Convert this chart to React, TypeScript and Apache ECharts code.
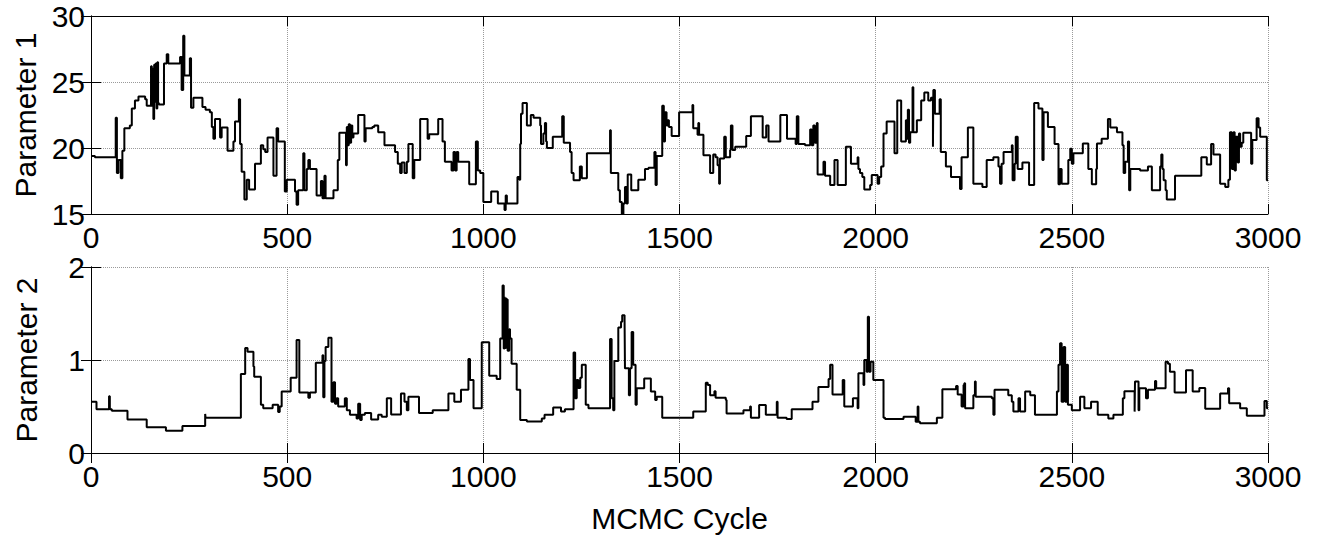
import React, { useEffect, useRef } from "react";
import * as echarts from "echarts";

const xTicks = [0, 500, 1000, 1500, 2000, 2500, 3000];

const param1Cycles = [
  0, 10, 63, 66, 70, 76, 80, 85, 99, 104, 112, 121, 138, 142, 153, 155, 157, 159, 161, 163, 165, 167, 169, 171, 173,
  186, 193, 197, 227, 231, 235, 238, 252, 255, 261, 284, 292, 303, 308, 312, 316, 329, 333, 348, 363, 367, 377, 380,
  384, 391, 397, 403, 418, 433, 439, 444, 450, 465, 473, 477, 494, 499, 520, 524, 528, 541, 544, 550, 554, 558, 575,
  586, 590, 595, 598, 618, 629, 633, 650, 652, 655, 657, 660, 663, 666, 669, 681, 697, 700, 717, 722, 732, 748, 775,
  782, 788, 792, 799, 805, 809, 820, 824, 839, 858, 862, 885, 896, 902, 919, 924, 928, 932, 936, 964, 981, 986, 992,
  1000, 1020, 1037, 1054, 1057, 1060, 1087, 1092, 1094, 1096, 1100, 1111, 1121, 1128, 1145, 1147, 1153, 1157, 1160,
  1162, 1177, 1201, 1205, 1221, 1225, 1230, 1246, 1251, 1264, 1323, 1325, 1344, 1348, 1353, 1357, 1361, 1365, 1368,
  1377, 1395, 1412, 1421, 1436, 1439, 1442, 1456, 1460, 1463, 1467, 1470, 1473, 1480, 1499, 1533, 1535, 1546, 1548,
  1550, 1561, 1578, 1586, 1592, 1597, 1601, 1603, 1614, 1618, 1629, 1631, 1635, 1642, 1670, 1682, 1712, 1721, 1727,
  1757, 1774, 1796, 1799, 1803, 1820, 1833, 1837, 1841, 1845, 1850, 1852, 1867, 1871, 1884, 1895, 1903, 1924, 1937,
  1954, 1956, 1960, 1966, 1971, 1986, 1990, 2005, 2009, 2014, 2020, 2028, 2048, 2055, 2065, 2077, 2079, 2082, 2085,
  2088, 2094, 2096, 2105, 2116, 2124, 2134, 2141, 2146, 2147, 2151, 2163, 2166, 2179, 2192, 2215, 2219, 2235, 2249,
  2272, 2283, 2300, 2313, 2317, 2321, 2326, 2347, 2349, 2354, 2357, 2362, 2374, 2391, 2404, 2415, 2425, 2428, 2439,
  2456, 2466, 2470, 2474, 2491, 2496, 2500, 2504, 2528, 2542, 2551, 2562, 2564, 2576, 2592, 2598, 2615, 2629, 2632,
  2636, 2643, 2646, 2649, 2674, 2694, 2704, 2725, 2728, 2731, 2734, 2739, 2742, 2763, 2830, 2844, 2855, 2861, 2878,
  2891, 2899, 2903, 2908, 2912, 2915, 2918, 2923, 2926, 2929, 2933, 2937, 2957, 2960, 2971, 2976, 2980, 2997, 3000,
];
const param1Values = [
  19.4, 19.3, 22.3, 18.1, 19.1, 17.7, 19.8, 21.5, 21.7, 23.0, 23.6, 23.9, 23.7, 23.2, 26.2, 23.2, 26.0, 22.2, 26.3,
  23.5, 26.4, 23.0, 26.5, 23.4, 23.3, 26.4, 27.1, 26.4, 26.9, 24.4, 28.5, 25.5, 26.8, 23.05, 23.8, 23.1, 22.9, 22.7,
  21.6, 20.7, 22.2, 20.8, 21.55, 19.8, 20.5, 22.0, 23.7, 20.3, 18.2, 16.1, 17.6, 16.85, 18.8, 20.2, 19.9, 19.7, 20.8,
  17.9, 21.5, 20.5, 16.7, 17.6, 16.7, 15.7, 16.8, 19.6, 16.8, 18.4, 19.1, 18.4, 16.4, 17.5, 16.2, 17.9, 16.2, 16.8,
  19.1, 21.15, 18.7, 21.6, 20.2, 21.8, 20.4, 21.7, 20.8, 21.1, 22.5, 20.5, 21.5, 21.6, 21.7, 21.2, 20.2, 19.7, 18.8,
  18.1, 18.9, 18.1, 18.95, 20.3, 17.7, 19.1, 22.2, 20.7, 21.05, 22.2, 20.5, 18.95, 18.3, 19.7, 18.3, 19.7, 18.95,
  17.25, 20.5, 18.3, 18.1, 15.9, 16.7, 15.8, 15.3, 16.4, 15.8, 17.8, 17.6, 20.3, 22.6, 23.4, 21.7, 22.5, 22.3, 21.7,
  20.3, 21.1, 21.9, 20.5, 20.0, 20.85, 22.4, 20.4, 19.7, 18.1, 17.55, 18.6, 17.7, 19.6, 21.35, 18.1, 16.8, 15.9, 15.0,
  15.8, 17.05, 15.8, 18.0, 16.8, 17.6, 18.4, 18.5, 19.7, 17.2, 19.4, 23.2, 20.5, 22.7, 21.7, 22.1, 21.6, 20.9, 22.7,
  23.25, 21.5, 21.0, 21.9, 21.0, 19.45, 18.1, 19.5, 19.3, 18.7, 17.3, 19.2, 20.85, 19.3, 19.85, 21.7, 19.85, 20.1,
  20.9, 22.4, 20.8, 21.7, 20.5, 22.5, 20.7, 20.3, 22.4, 20.3, 20.2, 21.4, 20.2, 21.7, 20.4, 21.9, 18.0, 18.95, 17.9,
  17.2, 19.1, 17.2, 20.1, 18.8, 19.3, 18.4, 18.1, 17.8, 16.85, 17.2, 17.95, 17.3, 17.8, 18.6, 21.1, 22.0, 19.6, 23.6,
  20.5, 22.1, 20.7, 22.9, 20.4, 21.2, 24.6, 21.2, 22.1, 23.6, 24.2, 23.6, 23.8, 20.1, 24.4, 22.6, 23.7, 19.7, 18.6,
  17.8, 16.9, 19.3, 21.55, 17.3, 17.05, 19.1, 19.3, 18.6, 17.3, 18.8, 19.7, 20.2, 17.55, 18.8, 20.85, 18.4, 18.9,
  17.2, 23.4, 23.0, 19.1, 22.7, 21.6, 20.3, 17.25, 18.4, 17.3, 19.1, 19.95, 18.8, 19.6, 20.35, 18.4, 17.25, 18.4,
  20.35, 20.7, 22.2, 21.55, 21.2, 20.2, 18.1, 18.95, 20.5, 16.8, 18.4, 18.3, 18.6, 16.8, 18.6, 19.5, 18.4, 17.55,
  16.8, 16.1, 17.9, 19.3, 18.75, 20.3, 19.5, 17.3, 17.05, 17.6, 21.2, 18.4, 21.2, 18.3, 20.85, 18.9, 21.1, 20.1,
  20.4, 21.15, 18.8, 20.6, 22.25, 21.55, 20.85, 17.55, 17.55,
];

const param2Cycles = [
  0, 14, 46, 48, 53, 93, 142, 191, 233, 291, 292, 382, 393, 399, 414, 416, 433, 439, 463, 477, 481, 486, 509, 524,
  531, 554, 558, 573, 590, 592, 595, 598, 605, 613, 618, 622, 626, 630, 647, 652, 660, 677, 681, 686, 690, 698, 714,
  732, 741, 754, 765, 790, 799, 805, 809, 836, 871, 911, 926, 943, 962, 966, 975, 996, 1015, 1034, 1043, 1049, 1052,
  1054, 1055, 1057, 1059, 1060, 1062, 1066, 1068, 1072, 1085, 1094, 1111, 1149, 1156, 1178, 1198, 1208, 1230, 1234,
  1238, 1242, 1247, 1251, 1261, 1268, 1323, 1327, 1331, 1334, 1344, 1351, 1354, 1360, 1361, 1371, 1374, 1378, 1382,
  1388, 1391, 1410, 1427, 1438, 1442, 1456, 1535, 1567, 1572, 1578, 1589, 1592, 1618, 1620, 1663, 1680, 1682, 1703,
  1720, 1748, 1750, 1773, 1786, 1839, 1854, 1880, 1884, 1890, 1916, 1920, 1942, 1954, 1956, 1969, 1971, 1977, 1980,
  1983, 1987, 1994, 2020, 2024, 2071, 2102, 2107, 2109, 2113, 2156, 2170, 2205, 2209, 2219, 2224, 2226, 2228, 2249,
  2253, 2255, 2296, 2300, 2303, 2338, 2347, 2351, 2364, 2368, 2381, 2394, 2406, 2462, 2466, 2470, 2474, 2479, 2483,
  2487, 2490, 2500, 2521, 2532, 2549, 2566, 2593, 2606, 2630, 2634, 2660, 2661, 2670, 2672, 2689, 2694, 2712, 2715,
  2739, 2745, 2750, 2762, 2791, 2808, 2825, 2840, 2878, 2898, 2901, 2929, 2946, 2991, 2997, 3000,
];
const param2Values = [
  0.55, 0.47, 0.61, 0.47, 0.455, 0.36, 0.276, 0.24, 0.29, 0.42, 0.38, 0.85, 1.13, 1.09, 0.93, 0.82, 0.52, 0.48,
  0.52, 0.44, 0.5, 0.66, 0.81, 1.215, 0.65, 0.595, 0.65, 0.97, 1.05, 0.6, 0.99, 1.14, 1.24, 0.55, 0.76, 0.53, 0.59,
  0.5, 0.59, 0.46, 0.41, 0.37, 0.53, 0.355, 0.41, 0.43, 0.36, 0.41, 0.39, 0.59, 0.415, 0.64, 0.55, 0.46, 0.605, 0.43,
  0.46, 0.64, 0.55, 0.68, 1.01, 0.785, 0.48, 1.19, 0.83, 0.795, 1.23, 1.8, 1.125, 1.68, 1.13, 1.66, 1.12, 1.65, 1.1,
  1.33, 1.23, 0.96, 0.68, 0.355, 0.34, 0.37, 0.41, 0.49, 0.445, 0.47, 1.08, 0.59, 0.785, 0.7, 0.81, 0.95, 0.52, 0.48,
  1.225, 0.59, 0.46, 0.99, 1.35, 1.41, 1.48, 1.43, 0.91, 0.62, 0.91, 1.3, 0.95, 0.52, 0.695, 0.8, 0.66, 0.57, 0.605,
  0.38, 0.445, 0.755, 0.73, 0.62, 0.665, 0.595, 0.57, 0.425, 0.46, 0.5, 0.38, 0.515, 0.41, 0.55, 0.38, 0.366, 0.47,
  0.55, 0.71, 0.795, 0.95, 0.63, 0.785, 0.5, 0.59, 0.48, 0.857, 0.73, 1.0, 0.875, 1.466, 0.875, 0.98, 0.785, 0.38,
  0.366, 0.39, 0.335, 0.5, 0.335, 0.32, 0.38, 0.685, 0.72, 0.63, 0.5, 0.73, 0.75, 0.48, 0.62, 0.77, 0.605, 0.59, 0.41,
  0.68, 0.62, 0.55, 0.445, 0.59, 0.445, 0.66, 0.62, 0.41, 0.66, 0.95, 1.18, 0.55, 1.14, 0.55, 0.95, 0.52, 0.46, 0.605,
  0.48, 0.55, 0.41, 0.37, 0.41, 0.59, 0.665, 0.445, 0.77, 0.46, 0.695, 0.59, 0.68, 0.775, 0.695, 0.98, 0.96, 0.875,
  0.65, 0.89, 0.66, 0.7, 0.475, 0.64, 0.695, 0.535, 0.48, 0.4, 0.56, 0.48, 0.48,
];

const FONT = "'Liberation Sans', Arial, sans-serif";

function pairs(c: number[], v: number[]) {
  return c.map((x, i) => [x, v[i]]);
}

export default function App() {
  const ref = useRef<HTMLDivElement>(null);
  useEffect(() => {
    if (!ref.current) return;
    const chart = echarts.init(ref.current, null, { renderer: "svg" });
    const grids = [
      { left: 91, top: 16, width: 1177, height: 198 },
      { left: 91, top: 267, width: 1177, height: 186 },
    ];
    const lineBlack = { show: true, lineStyle: { color: "#000", width: 1 } };
    const tickIn = { show: true, inside: true, length: 10, lineStyle: { color: "#000", width: 1 } };
    const split = { show: true, lineStyle: { color: "#9a9a9a", width: 1, type: "dotted" as const } };
    const label = { color: "#000", fontSize: 30, fontFamily: FONT };
    const plain = (v: number) => String(v);

    const xAxes: any[] = [];
    const yAxes: any[] = [];
    [0, 1].forEach((g) => {
      xAxes.push({
        gridIndex: g, type: "value", min: xTicks[0], max: xTicks[xTicks.length - 1], interval: xTicks[1] - xTicks[0],
        position: "bottom",
        axisLine: lineBlack, axisTick: tickIn, splitLine: split,
        axisLabel: { ...label, margin: 8, formatter: plain },
        ...(g === 1
          ? { name: "MCMC Cycle", nameLocation: "middle", nameGap: 50, nameTextStyle: { ...label } }
          : {}),
      });
      xAxes.push({
        gridIndex: g, type: "value", min: 0, max: 3000, interval: 500, position: "top",
        axisLine: lineBlack, axisTick: tickIn, splitLine: { show: false }, axisLabel: { show: false },
      });
      const ymin = g === 0 ? 15 : 0;
      const ymax = g === 0 ? 30 : 2;
      const yint = g === 0 ? 5 : 1;
      yAxes.push({
        gridIndex: g, type: "value", min: ymin, max: ymax, interval: yint, position: "left",
        axisLine: lineBlack, axisTick: tickIn, splitLine: split,
        axisLabel: { ...label, margin: 6, formatter: plain },
        name: g === 0 ? "Parameter 1" : "Parameter 2",
        nameLocation: "middle", nameGap: 50, nameRotate: 90,
        nameTextStyle: { ...label },
      });
      yAxes.push({
        gridIndex: g, type: "value", min: ymin, max: ymax, interval: yint, position: "right",
        axisLine: lineBlack, axisTick: tickIn, splitLine: { show: false }, axisLabel: { show: false },
      });
    });

    chart.setOption({
      animation: false,
      backgroundColor: "#fff",
      grid: grids,
      xAxis: xAxes,
      yAxis: yAxes,
      series: [
        {
          type: "line", xAxisIndex: 0, yAxisIndex: 0, step: "end", showSymbol: false,
          lineStyle: { color: "#000", width: 2 }, data: pairs(param1Cycles, param1Values),
        },
        {
          type: "line", xAxisIndex: 2, yAxisIndex: 2, step: "end", showSymbol: false,
          lineStyle: { color: "#000", width: 2 }, data: pairs(param2Cycles, param2Values),
        },
      ],
    });
    return () => chart.dispose();
  }, []);
  return (
    <div
      ref={ref}
      style={{ position: "fixed", left: 0, top: 0, width: 1319, height: 535, background: "#fff" }}
    />
  );
}
